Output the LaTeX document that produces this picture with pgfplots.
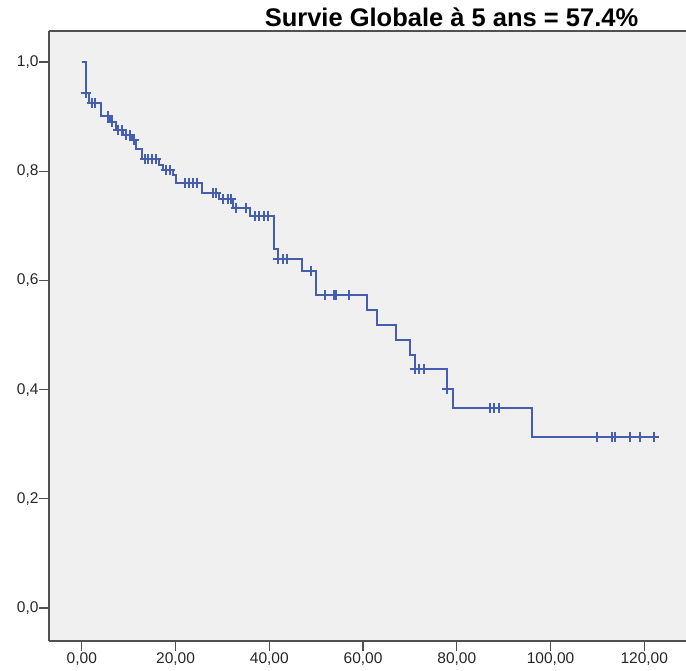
\documentclass[border=0pt]{standalone}
\usepackage{pgfplots}
\usepackage{fontspec}
\setmainfont{Liberation Sans}
\pgfplotsset{compat=1.18}
\definecolor{kmblue}{RGB}{70,94,176}
\definecolor{plotbg}{RGB}{240,240,240}
\definecolor{axisgray}{RGB}{80,80,80}

\begin{document}
\begin{tikzpicture}[x=1pt,y=1pt]
\begin{axis}[
  at={(49pt,30pt)}, anchor=south west,
  scale only axis,
  width=637pt, height=610pt,
  xmin=-7.0, xmax=128.9,
  ymin=-0.0604, ymax=1.0568,
  axis background/.style={fill=plotbg},
  axis x line=box, axis y line=left,
  axis line style={draw=axisgray, line width=1.5pt, -},
  xtick={0,20,...,120},
  ytick={0,0.2,...,1.0},
  xtick pos=bottom, ytick pos=left,
  tick align=outside,
  major tick length=10pt,
  tick style={draw=axisgray, line width=1.2pt},
  /pgf/number format/.cd, use comma, fixed, fixed zerofill, assume math mode=true,
  /pgfplots/.cd,
  xticklabel style={/pgf/number format/precision=2, font=\fontsize{15.5}{16}\selectfont, text=black!85},
  yticklabel style={/pgf/number format/precision=1, font=\fontsize{15.5}{16}\selectfont, text=black!85},
  xticklabel shift=-2pt, yticklabel shift=-3pt,
  clip=false,
]
\addplot[const plot, draw=kmblue, line width=2pt, no markers] coordinates {
  (0,1.0) (0.8,0.943) (1.6,0.924) (4.0,0.901) (6.0,0.891) (7.2,0.876)
  (8.8,0.866) (10.8,0.857) (11.6,0.840) (12.8,0.822) (16.4,0.812)
  (17.4,0.802) (19.4,0.793) (20.2,0.779) (25.6,0.760) (29.2,0.749)
  (32.2,0.733) (35.8,0.718) (41.0,0.658) (41.9,0.639) (47.0,0.618)
  (50.0,0.574) (60.9,0.546) (62.9,0.518) (67.0,0.491) (70.0,0.464)
  (71.0,0.437) (78.0,0.402) (79.1,0.366) (96.0,0.313) (122.1,0.313)
};
% censored observations
\addplot[only marks, mark=+, mark size=5pt, draw=kmblue, mark options={draw=kmblue, line width=2pt}] coordinates {
  (0.8,0.943) (2.1,0.924) (2.9,0.924)
  (5.6,0.901) (6.4,0.891) (7.8,0.876) (8.5,0.876) (9.4,0.866) (10.3,0.866)
  (11.2,0.857) (13.5,0.822) (14.2,0.822) (15.0,0.822) (15.8,0.822)
  (17.9,0.802) (18.8,0.802) (22.1,0.779) (22.9,0.779) (23.8,0.779) (24.6,0.779)
  (27.9,0.760) (28.6,0.760) (30.2,0.749) (31.1,0.749) (31.9,0.749)
  (32.9,0.733) (35.0,0.733) (36.9,0.718) (37.8,0.718) (38.8,0.718) (39.7,0.718)
  (41.9,0.639) (42.9,0.639) (43.8,0.639) (49.0,0.618)
  (51.9,0.574) (53.8,0.574) (54.3,0.574) (56.9,0.574)
  (71.0,0.437) (72.0,0.437) (72.9,0.437) (78.0,0.402)
  (87.0,0.366) (88.0,0.366) (88.9,0.366)
  (109.9,0.313) (113.1,0.313) (113.8,0.313) (117.0,0.313) (119.0,0.313) (122.1,0.313)
};
\end{axis}
\node[anchor=base, font=\bfseries\fontsize{25.5}{26}\selectfont] at (451.5pt,644pt) {Survie Globale à 5 ans = 57.4\%};
\pgfresetboundingbox
\path (0,0) rectangle (686pt,671pt);
\end{tikzpicture}
\end{document}
